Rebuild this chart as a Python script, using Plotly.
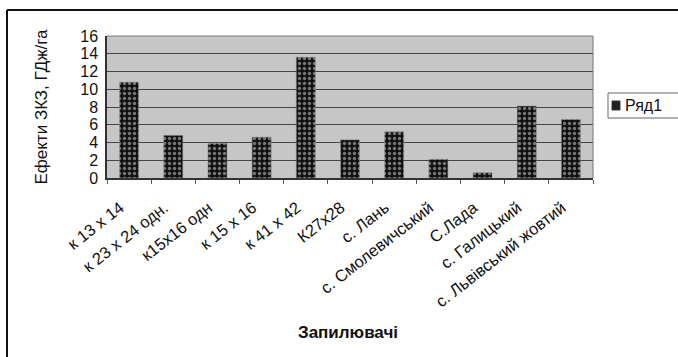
import plotly.graph_objects as go

categories = ["к 13 х 14", "к 23 х 24 одн.", "к15х16 одн", "к 15 х 16", "к 41 х 42",
              "К27х28", "с. Лань", "с. Смолевичський", "С.Лада", "с. Галицький",
              "с. Львівський жовтий"]
values = [10.8, 4.8, 3.9, 4.6, 13.6, 4.3, 5.2, 2.1, 0.6, 8.1, 6.6]
y_ticks = [0, 2, 4, 6, 8, 10, 12, 14, 16]
series_name = "Ряд1"

W, H = 678, 357
L, R, T, B = 107, 593, 36, 178
pw, ph = R - L, B - T

def px(x):
    return (x - L) / pw

def py(y):
    return (B - y) / ph

FONT = "Liberation Sans, Arial, sans-serif"

fig = go.Figure()
fig.add_trace(go.Bar(
    x=categories, y=values, name=series_name, showlegend=False,
    marker=dict(color="#111111",
                line=dict(color="#888888", width=0.5),
                pattern=dict(shape=".", fgcolor="#dddddd", bgcolor="#111111",
                             size=5, solidity=0.35)),
))

fig.update_layout(
    width=W, height=H,
    margin=dict(l=L, r=W - R, t=T, b=H - B, autoexpand=False),
    paper_bgcolor="white", plot_bgcolor="#c6c6c6",
    font=dict(family=FONT, size=14, color="#111111"),
    bargap=0.57,
    showlegend=False,
    xaxis=dict(showgrid=False, ticks="outside", tickson="boundaries", ticklen=4,
               tickcolor="#555555", tickangle=-38, tickfont=dict(size=16.5),
               ticklabelstandoff=12, ticklabelshift=-9,
               showline=True, linecolor="#333333", linewidth=1.5, mirror=False),
    yaxis=dict(range=[0, 16], tickvals=y_ticks, showgrid=True, gridcolor="#444444",
               gridwidth=1, zeroline=False, showline=True, linecolor="#333333",
               linewidth=1.5, tickfont=dict(size=16), ticks="", ticklabelstandoff=4,
               title=dict(text="Ефекти ЗКЗ, ГДж/га", font=dict(size=17), standoff=28)),
    shapes=[
        dict(type="line", xref="paper", yref="paper", x0=px(L), x1=px(R), y0=1, y1=1,
             line=dict(color="#777777", width=1)),
        dict(type="line", xref="paper", yref="paper", x0=px(R), x1=px(R), y0=0, y1=1,
             line=dict(color="#777777", width=1)),
        dict(type="line", xref="paper", yref="paper", x0=px(7), x1=px(7), y0=py(10), y1=py(360),
             line=dict(color="#111111", width=2)),
        dict(type="line", xref="paper", yref="paper", x0=px(7), x1=px(690), y0=py(10), y1=py(10),
             line=dict(color="#111111", width=2)),
        # legend box and key
        dict(type="rect", xref="paper", yref="paper", x0=px(608), x1=px(690), y0=py(118), y1=py(93),
             line=dict(color="#666666", width=1), fillcolor="white"),
        dict(type="rect", xref="paper", yref="paper", x0=px(612), x1=px(620), y0=py(110), y1=py(101),
             line=dict(color="#333333", width=1), fillcolor="#222222"),
    ],
    annotations=[
        dict(text="<b>Запилювачі</b>", xref="paper", yref="paper", x=px(348), y=py(332),
             showarrow=False, font=dict(size=17), xanchor="center", yanchor="middle"),
        dict(text=series_name, xref="paper", yref="paper", x=px(623), y=py(105.5),
             showarrow=False, font=dict(size=16), xanchor="left", yanchor="middle"),
    ],
)

fig.write_html("out.html", post_script="document.body.style.margin='0';",
               config={"displayModeBar": False})
